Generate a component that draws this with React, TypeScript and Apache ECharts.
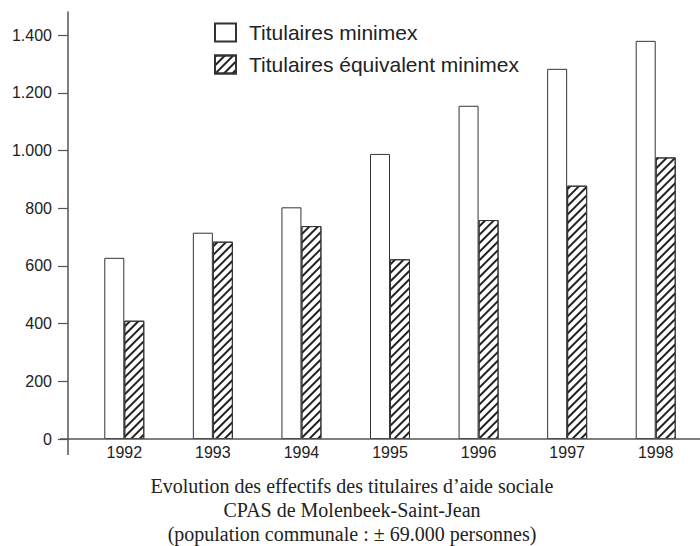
import React, { useEffect, useRef } from "react";
import * as echarts from "echarts";

const years = ["1992", "1993", "1994", "1995", "1996", "1997", "1998"];
const minimex = [628, 715, 803, 988, 1155, 1283, 1380];
const equivalent = [410, 684, 738, 623, 759, 878, 976];
const yTicks = [0, 200, 400, 600, 800, 1000, 1200, 1400];
const seriesNames = ["Titulaires minimex", "Titulaires équivalent minimex"];
const captionLines = [
  "Evolution des effectifs des titulaires d’aide sociale",
  "CPAS de Molenbeek-Saint-Jean",
  "(population communale : ± 69.000 personnes)",
];

const SANS = "'Liberation Sans', Arial, sans-serif";
const SERIF = "'Liberation Serif', 'Times New Roman', serif";

function fmt(v: number): string {
  return String(v).replace(/\B(?=(\d{3})+(?!\d))/g, ".");
}

export default function App() {
  const ref = useRef<HTMLDivElement>(null);
  useEffect(() => {
    if (!ref.current) return;
    const chart = echarts.init(ref.current, null, { renderer: "svg" });
    const gridTop = 12;
    const gridHeight = 427;
    const zeroY = gridTop + gridHeight;
    chart.setOption({
      animation: false,
      backgroundColor: "#fff",
      textStyle: { fontFamily: SANS },
      grid: { left: 80, width: 622, top: gridTop, height: gridHeight, containLabel: false },
      legend: {
        orient: "vertical",
        left: 214,
        top: 22,
        padding: 0,
        itemWidth: 21,
        itemHeight: 18,
        itemGap: 11,
        icon: "rect",
        data: seriesNames,
        textStyle: {
          fontFamily: SANS,
          fontSize: 21,
          color: "#222",
          lineHeight: 21,
          padding: [0, 0, 0, 8],
        },
      },
      xAxis: {
        type: "category",
        data: years,
        axisLine: { show: false },
        axisTick: { show: false },
        axisLabel: { fontSize: 16, color: "#222", margin: 5, fontFamily: SANS },
        splitLine: { show: false },
      },
      yAxis: {
        type: "value",
        min: 0,
        max: 1480,
        interval: 200,
        offset: 12,
        axisLine: { show: true, lineStyle: { color: "#555", width: 1.5 } },
        axisTick: {
          show: true,
          length: 10,
          inside: false,
          customValues: yTicks,
          lineStyle: { color: "#555", width: 1.2 },
        },
        axisLabel: {
          fontSize: 16,
          color: "#222",
          margin: 16,
          fontFamily: SANS,
          customValues: yTicks,
          formatter: (v: number) => fmt(v),
        },
        splitLine: { show: false },
      },
      series: [
        {
          name: seriesNames[0],
          type: "bar",
          data: minimex,
          barWidth: 20,
          barGap: "0%",
          itemStyle: { color: "#fff", borderColor: "#333", borderWidth: 1 },
        },
        {
          name: seriesNames[1],
          type: "bar",
          data: equivalent,
          barWidth: 20,
          barGap: "0%",
          itemStyle: {
            color: "#fff",
            borderColor: "#333",
            borderWidth: 1,
            decal: {
              symbol: "rect",
              symbolSize: 1,
              color: "#222",
              dashArrayX: [1, 0],
              dashArrayY: [1.4, 3.2],
              rotation: -Math.PI / 4,
            },
          },
        },
      ],
      graphic: [
        {
          type: "line",
          shape: { x1: 60, y1: zeroY, x2: 700, y2: zeroY },
          style: { stroke: "#555", lineWidth: 1.5 },
          z: 10,
        },
        {
          type: "line",
          shape: { x1: 68, y1: zeroY, x2: 68, y2: 455 },
          style: { stroke: "#555", lineWidth: 1.5 },
          z: 10,
        },
        {
          type: "text",
          x: 352,
          y: 474,
          style: {
            text: captionLines.join("\n"),
            textAlign: "center",
            textVerticalAlign: "top",
            font: `20px ${SERIF}`,
            lineHeight: 24,
            fill: "#222",
          },
        },
      ],
    });
    return () => chart.dispose();
  }, []);
  return (
    <div
      ref={ref}
      style={{ position: "fixed", left: 0, top: 0, width: 700, height: 546 }}
    />
  );
}
